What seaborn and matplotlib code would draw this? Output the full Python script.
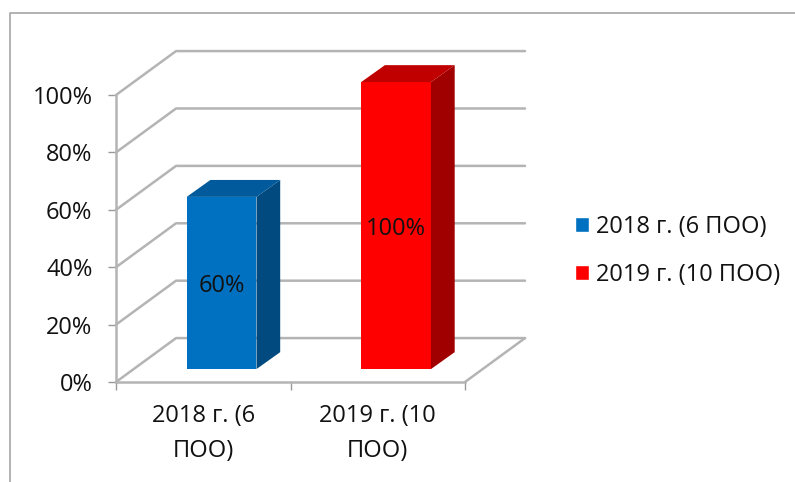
import matplotlib
matplotlib.use("Agg")
import matplotlib.pyplot as plt
import seaborn as sns
import pandas as pd
from matplotlib.lines import Line2D
from matplotlib.patches import Polygon

categories = ["2018 г. (6 ПОО)", "2019 г. (10 ПОО)"]
tick_labels = ["2018 г. (6\nПОО)", "2019 г. (10\nПОО)"]
values = [60, 100]
y_ticks = [0, 20, 40, 60, 80, 100]

front_colors = ["#0070C0", "#FF0000"]
side_colors = ["#004A7F", "#A00000"]
top_colors = ["#005A9C", "#C00000"]
GRID = "#B4B4B4"
FS = 17
W, H = 795, 482

# 3d look: depth of the walls and of the bars, in data units
WALL_DX, WALL_DY = 0.344, 15.3
BAR_SHIFT_X, BAR_SHIFT_Y = 0.105, 4.5
BAR_DX, BAR_DY = 0.136, 5.9

sns.set_theme(style="white")
plt.rcParams["font.family"] = ["Open Sans", "DejaVu Sans"]

fig = plt.figure(figsize=(W / 100, H / 100), dpi=100)
ax = fig.add_axes([116 / W, (H - 382) / H, 349 / W, 287 / H])

df = pd.DataFrame({"cat": categories, "value": values})
sns.barplot(data=df, x="cat", y="value", hue="cat", palette=front_colors,
            width=0.4, dodge=False, saturation=1, legend=True, ax=ax, zorder=5)
ax.set_xlim(-0.5, 1.5)
ax.set_ylim(0, 100)
ax.set_xlabel("")
ax.set_ylabel("")

# back wall, side wall and floor
for t in y_ticks:
    ax.plot([-0.5, -0.5 + WALL_DX, 1.5 + WALL_DX], [t, t + WALL_DY, t + WALL_DY],
            color=GRID, lw=1.8, clip_on=False, zorder=1)
ax.plot([1.5, 1.5 + WALL_DX], [0, WALL_DY], color=GRID, lw=1.8, clip_on=False, zorder=1)

# move bars off the front plane and add top + side faces
bars = [p for container in ax.containers for p in container]
for i, patch in enumerate(bars):
    patch.set_x(patch.get_x() + BAR_SHIFT_X)
    patch.set_y(patch.get_y() + BAR_SHIFT_Y)
    patch.set_linewidth(0)
    patch.set_clip_on(False)
    x0, x1 = patch.get_x(), patch.get_x() + patch.get_width()
    y0, y1 = patch.get_y(), patch.get_y() + patch.get_height()
    side = [(x1, y0), (x1 + BAR_DX, y0 + BAR_DY), (x1 + BAR_DX, y1 + BAR_DY), (x1, y1)]
    top = [(x0, y1), (x0 + BAR_DX, y1 + BAR_DY), (x1 + BAR_DX, y1 + BAR_DY), (x1, y1)]
    ax.add_patch(Polygon(side, color=side_colors[i], lw=0, clip_on=False, zorder=5))
    ax.add_patch(Polygon(top, color=top_colors[i], lw=0, clip_on=False, zorder=5))
    ax.text((x0 + x1) / 2, (y0 + y1) / 2, f"{values[i]}%", ha="center", va="center_baseline",
            fontsize=FS, color="#111111", zorder=6)

# axes and ticks
for name in ["top", "right"]:
    ax.spines[name].set_visible(False)
for name in ["left", "bottom"]:
    ax.spines[name].set_color(GRID)
    ax.spines[name].set_linewidth(1.8)
ax.set_yticks(y_ticks)
ax.set_yticklabels([f"{t}%" for t in y_ticks], fontsize=FS, color="#111111", va="center_baseline")
ax.set_xticks([-0.5, 0.5, 1.5])
ax.set_xticklabels([])
ax.set_xticks([0, 1], minor=True)
ax.set_xticklabels(tick_labels, minor=True, fontsize=FS, color="#111111", linespacing=1.62)
ax.tick_params(axis="both", which="major", length=6, width=1, color="#999999", left=True, bottom=True)
ax.tick_params(axis="y", pad=11)
ax.tick_params(axis="x", which="minor", length=0, pad=16)

sns.move_legend(ax, "center left", bbox_to_anchor=(575 / W, (H - 251) / H),
                bbox_transform=fig.transFigure, title=None, frameon=False, fontsize=FS,
                labelcolor="#111111", handlelength=0.6, handleheight=0.6, handletextpad=0.28,
                labelspacing=1.0, borderpad=0, borderaxespad=0)

# chart frame
fig.add_artist(Line2D([10 / W, 10 / W, 1], [0, (H - 13) / H, (H - 13) / H],
                      color="#A6A6A6", lw=1.2))

fig.savefig("out.png", dpi=100)
